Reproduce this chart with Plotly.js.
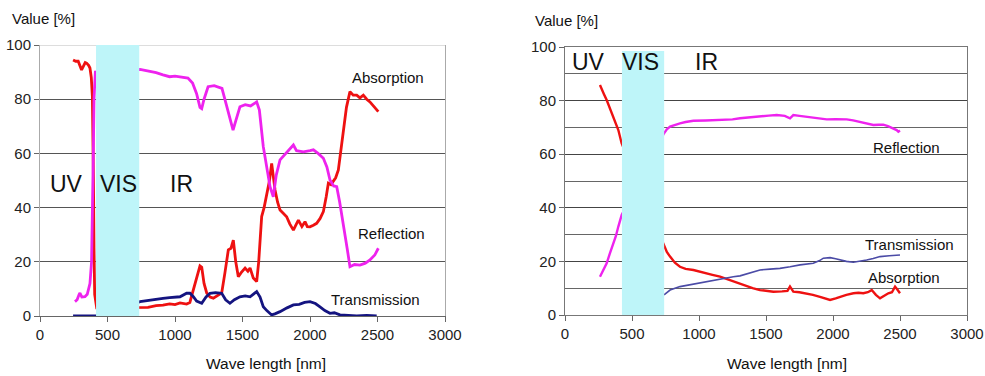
<!DOCTYPE html>
<html>
<head>
<meta charset="utf-8">
<script src="https://cdn.plot.ly/plotly-3.0.1.min.js"></script>
<style>html,body{margin:0;padding:0;background:#fff;}#chart{width:985px;height:376px;}</style>
</head>
<body>
<div id="chart"></div>
<script>
// ---------- Left chart data ----------
const leftAbsX = [245,265,283,300,308,320,335,345,360,370,380,388,392,396,400,405,420,740,800,860,911,960,1000,1037,1086,1110,1136,1160,1185,1198,1215,1235,1260,1284,1310,1346,1370,1395,1415,1432,1450,1469,1490,1519,1540,1556,1580,1605,1620,1642,1660,1679,1700,1716,1728,1741,1760,1778,1800,1827,1850,1877,1895,1914,1940,1963,1980,2000,2025,2049,2075,2099,2120,2136,2155,2173,2190,2210,2230,2247,2270,2296,2320,2346,2370,2395,2420,2444,2470,2490,2506];
const leftAbsY = [94.5,94,94,92,90.8,92,93.5,93.3,92.5,91.5,88,81,70,50,25,8,3,3,3.2,3.8,4,4.5,4.2,4.8,4.4,5,9.6,14,18.5,18,12,8.5,7,6.6,7.5,8.5,16,24.4,25,28,20,14.5,16,17.7,16.5,17.7,14,12.7,20,36.7,40,45.3,50,56.3,52,46.5,42,39.1,38,36.6,34,31.7,33.5,35.4,33,34.8,33,32.9,33.5,34.2,36,38.5,44,49,48.5,49.6,51,53.9,62,69.9,77,82.8,81.5,81.5,80.5,81.5,80,79,77.5,76.5,75.4];

const leftRefX = [259,275,290,296,310,333,350,370,382,390,395,400,410,741,800,860,911,960,1000,1037,1096,1130,1160,1185,1198,1215,1245,1290,1348,1380,1410,1430,1450,1481,1520,1560,1605,1625,1654,1680,1704,1728,1750,1778,1820,1877,1900,1951,2000,2025,2060,2099,2125,2148,2175,2198,2220,2247,2275,2296,2330,2370,2410,2444,2480,2506];
const leftRefY = [5.3,6,8,8.5,7,7.1,8,12,20,40,60,80,90,91,90.5,89.8,89,88.3,88.5,88.3,87.8,86,82,77,76.5,80,84.6,85,84,78,72,68.6,72,77.2,78,77.5,79,76,62.5,55,47.7,44,52,57.6,60,63.1,61,60.6,61,61.3,60,58.2,55,50.2,48,47.7,42,34.2,25,18.2,19,18.8,19.5,20.7,22.5,25];

const leftTraX = [245,300,350,400,430,741,800,860,911,960,1000,1037,1086,1111,1136,1160,1198,1230,1259,1300,1346,1375,1407,1440,1481,1520,1556,1605,1630,1654,1680,1716,1740,1778,1830,1877,1920,1960,2000,2040,2074,2110,2148,2180,2222,2280,2346,2420,2494];
const leftTraY = [0,0,0,0,0,5.3,5.8,6.2,6.5,6.8,7,7.1,8.4,8.4,7.1,5.5,4.7,7,8.4,8.6,8.4,6,4.7,6,7.1,7.4,7.1,9,7,3.4,2,0.4,0.8,1.6,3,4.1,4.3,5,5.3,4.6,3.4,2,1,1.2,0.4,0.3,0,0.2,0];

// ---------- Right chart data ----------
const rightAbsX = [261,275,290,311,335,361,380,398,423,739,760,784,820,858,900,958,1000,1057,1100,1157,1200,1256,1306,1350,1400,1455,1500,1555,1620,1660,1679,1704,1750,1804,1850,1903,1950,1978,2020,2052,2100,2152,2190,2226,2260,2289,2320,2351,2380,2413,2440,2463,2480,2500];
const rightAbsY = [85.8,84,82.5,80.2,77,74,71.5,69,64,26,23.5,21.8,19.5,18,17.2,16.8,16.2,15.5,15,14.3,13.5,12.5,11.8,10.8,10,9.3,9,8.7,8.8,9,10.6,8.7,8.5,8.1,7.5,6.8,6,5.6,6.2,6.8,7.5,8.1,8.3,8.1,8.5,9.3,7.5,6.2,7.2,8.1,8.5,10.6,9.5,8.1];

const rightRefX = [261,285,311,335,361,380,398,423,739,760,784,820,858,900,958,1050,1157,1250,1306,1380,1455,1520,1580,1640,1679,1704,1750,1804,1880,1953,2020,2102,2150,2201,2250,2301,2340,2375,2410,2450,2475,2488,2500];
const rightRefY = [14.3,16.5,19.3,23,26.7,29.5,33,37.3,67.8,69.3,70.3,71,71.5,72,72.5,72.6,72.8,73,73.4,73.8,74.3,74.4,74.6,74.3,73.4,74.6,74.3,74,73.5,73,73.1,73,72.6,72.1,71.5,70.9,71,71,70.5,69.7,69,68.4,68.8];

const rightTraX = [739,784,858,950,1057,1150,1256,1306,1380,1455,1530,1604,1680,1754,1853,1900,1928,1978,2020,2052,2100,2152,2200,2251,2300,2351,2420,2500];
const rightTraY = [7.5,9.3,10.6,11.5,12.4,13.2,14.3,14.6,15.8,16.8,17.1,17.4,18,18.7,19.3,20.3,21.2,21.4,21,20.5,20,19.7,20,20.5,21.1,21.8,22.1,22.4];

const xTickVals = [0,500,1000,1500,2000,2500,3000];
const yTickVals = [0,20,40,60,80,100];
const seriesNames = ['Absorption','Reflection','Transmission'];
const bandLabels = ['UV','VIS','IR'];

const RED = '#ee1111', PINK = '#ee22ee', NAVY = '#141480', BLUE2 = '#4b4ba6';
const FONT = 'Liberation Sans, Arial, sans-serif';

const traces = [
  {x:leftAbsX, y:leftAbsY, name:seriesNames[0], mode:'lines', line:{color:RED, width:2.8}, xaxis:'x', yaxis:'y'},
  {x:leftRefX, y:leftRefY, name:seriesNames[1], mode:'lines', line:{color:PINK, width:2.8}, xaxis:'x', yaxis:'y'},
  {x:leftTraX, y:leftTraY, name:seriesNames[2], mode:'lines', line:{color:NAVY, width:2.8}, xaxis:'x', yaxis:'y'},
  {x:rightAbsX, y:rightAbsY, name:seriesNames[0], mode:'lines', line:{color:RED, width:2.4}, xaxis:'x2', yaxis:'y2'},
  {x:rightRefX, y:rightRefY, name:seriesNames[1], mode:'lines', line:{color:PINK, width:2.4}, xaxis:'x2', yaxis:'y2'},
  {x:rightTraX, y:rightTraY, name:seriesNames[2], mode:'lines', line:{color:BLUE2, width:1.6}, xaxis:'x2', yaxis:'y2'}
];

const W = 985, H = 376;
const px = v => v / W, py = v => 1 - v / H;

const axisFont = {family: FONT, size: 15, color: '#222'};

function ann(text, x, y, size, anchor) {
  return {text: text, xref:'paper', yref:'paper', x: px(x), y: py(y), xanchor: anchor || 'center', yanchor:'middle',
          showarrow:false, font:{family:FONT, size:size, color:'#111'}};
}

const layout = {
  width: W, height: H,
  margin: {l:0, r:0, t:0, b:0},
  paper_bgcolor: '#fff', plot_bgcolor: '#fff',
  showlegend: false,
  xaxis: {domain:[px(40), px(445)], range:[0,3000], tickvals:xTickVals, ticks:'outside', ticklen:5, tickcolor:'#666',
          showline:true, linecolor:'#666', linewidth:1.2, showgrid:false, zeroline:false, tickfont:axisFont, anchor:'y', fixedrange:true},
  yaxis: {domain:[py(316), py(45)], range:[0,100], tickvals:yTickVals, ticks:'outside', ticklen:5, tickcolor:'#666',
          showline:true, linecolor:'#aaa', mirror:true, showgrid:true, gridcolor:'#555', gridwidth:1.2, zeroline:false, tickfont:axisFont, anchor:'x', fixedrange:true},
  xaxis2: {domain:[px(565), px(967)], range:[0,3000], tickvals:xTickVals, ticks:'outside', ticklen:5, tickcolor:'#666',
          showline:true, linecolor:'#777', linewidth:1.2, mirror:true, showgrid:false, zeroline:false, tickfont:axisFont, anchor:'y2', fixedrange:true},
  yaxis2: {domain:[py(315), py(47)], range:[0,100], tickvals:yTickVals, ticks:'outside', ticklen:5, tickcolor:'#666',
          showline:true, linecolor:'#777', mirror:true, showgrid:true, gridcolor:'#444', gridwidth:1.2, zeroline:false, tickfont:axisFont, anchor:'x2', fixedrange:true,
          minor:{tickvals:[10,30,50,70,90], showgrid:true, gridcolor:'#666', gridwidth:1, ticks:''}},
  shapes: [
    {type:'line', xref:'x', yref:'y', x0:0, x1:3000, y0:100, y1:100, line:{color:'#bbb', width:1.2}, layer:'above'},
    {type:'rect', xref:'x', yref:'y', x0:415, x1:735, y0:0, y1:100, fillcolor:'rgb(190,245,249)', line:{width:0}, layer:'above'},
    {type:'rect', xref:'x2', yref:'y2', x0:425, x1:740, y0:0, y1:98.5, fillcolor:'rgb(190,245,249)', line:{width:0}, layer:'above'}
  ],
  annotations: [
    ann('Value [%]', 10, 19, 15, 'left'),
    ann('Value [%]', 533, 20, 15, 'left'),
    ann('Wave length [nm]', 266, 363, 15.5),
    ann('Wave length [nm]', 787, 363, 15.5),
    ann(bandLabels[0], 66, 184, 23),
    ann(bandLabels[1], 118.5, 184, 23),
    ann(bandLabels[2], 181.5, 184, 23),
    ann(bandLabels[0], 588, 62, 23),
    ann(bandLabels[1], 640.5, 62, 23),
    ann(bandLabels[2], 706.5, 62, 23),
    ann(seriesNames[0], 388, 78, 15),
    ann(seriesNames[1], 391.5, 233, 15),
    ann(seriesNames[2], 375, 299, 15),
    ann(seriesNames[1], 906, 147, 15),
    ann(seriesNames[2], 909, 245, 15),
    ann(seriesNames[0], 904, 277, 15)
  ]
};

Plotly.newPlot('chart', traces, layout, {staticPlot:true, displayModeBar:false});
</script>
</body>
</html>
